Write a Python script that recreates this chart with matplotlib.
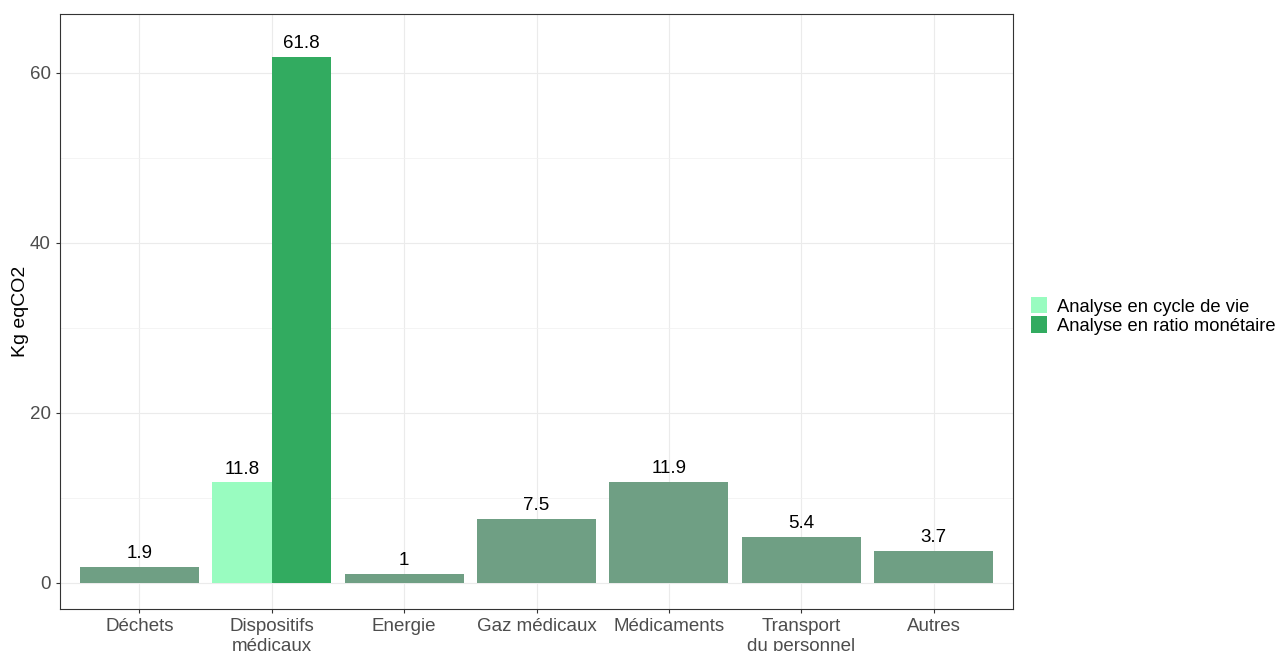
import numpy as np
import matplotlib.pyplot as plt
from matplotlib.patches import Patch

plt.rcParams['font.family'] = ['Liberation Sans', 'DejaVu Sans']

# Emissions per poste (Kg eqCO2)
categories = ['Déchets', 'Dispositifs\nmédicaux', 'Energie', 'Gaz médicaux',
              'Médicaments', 'Transport\ndu personnel', 'Autres']
values = [1.9, None, 1.0, 7.5, 11.9, 5.4, 3.7]
disp_acv = 11.8       # analyse en cycle de vie
disp_ratio = 61.8     # analyse en ratio monétaire
legend_labels = ['Analyse en cycle de vie', 'Analyse en ratio monétaire']

c_base = '#6f9f84'
c_acv = '#99fcc0'
c_ratio = '#32ab60'

fig = plt.figure(figsize=(12.79, 6.51), dpi=100)
ax = fig.add_axes([0.0469, 0.0645, 0.7452, 0.914])

x = np.arange(1, len(categories) + 1)
w = 0.9

def label(xpos, v):
    txt = f'{v:g}'
    ax.annotate(txt, (xpos, v), xytext=(0, 3.5), textcoords='offset points',
                ha='center', va='bottom', fontsize=13.5, color='black')

for xi, v in zip(x, values):
    if v is None:
        continue
    ax.bar(xi, v, width=w, color=c_base, zorder=2)
    label(xi, v)

# Dispositifs médicaux: two methods side by side
xd = x[1]
ax.bar(xd - w / 4, disp_acv, width=w / 2, color=c_acv, zorder=2)
ax.bar(xd + w / 4, disp_ratio, width=w / 2, color=c_ratio, zorder=2)
label(xd - w / 4, disp_acv)
label(xd + w / 4, disp_ratio)

ax.set_xlim(0.4, len(categories) + 0.6)
ax.set_ylim(-3.09, 66.89)
ax.set_xticks(x)
ax.set_xticklabels(categories)
ax.set_yticks([0, 20, 40, 60])
ax.set_yticks([10, 30, 50], minor=True)
ax.tick_params(axis='both', which='major', labelsize=13.5, colors='#4d4d4d',
               length=3, color='#333333')
ax.tick_params(axis='y', which='minor', length=0)
ax.grid(True, which='major', color='#ebebeb', lw=0.8, zorder=0)
ax.grid(True, which='minor', axis='y', color='#f2f2f2', lw=0.6, zorder=0)
ax.set_axisbelow(True)
for s in ax.spines.values():
    s.set_color('#333333')
    s.set_linewidth(0.8)

ax.set_ylabel('Kg eqCO2', fontsize=14, color='black')
ax.yaxis.set_label_coords(-0.032, 0.5)

handles = [Patch(facecolor=c_acv), Patch(facecolor=c_ratio)]
fig.legend(handles, legend_labels, loc='center left', bbox_to_anchor=(0.8, 0.5146),
           frameon=False, fontsize=13.2, handlelength=0.9, handleheight=1.0,
           handletextpad=0.55, labelspacing=0.05, borderaxespad=0)

fig.savefig('out.png', dpi=100)
